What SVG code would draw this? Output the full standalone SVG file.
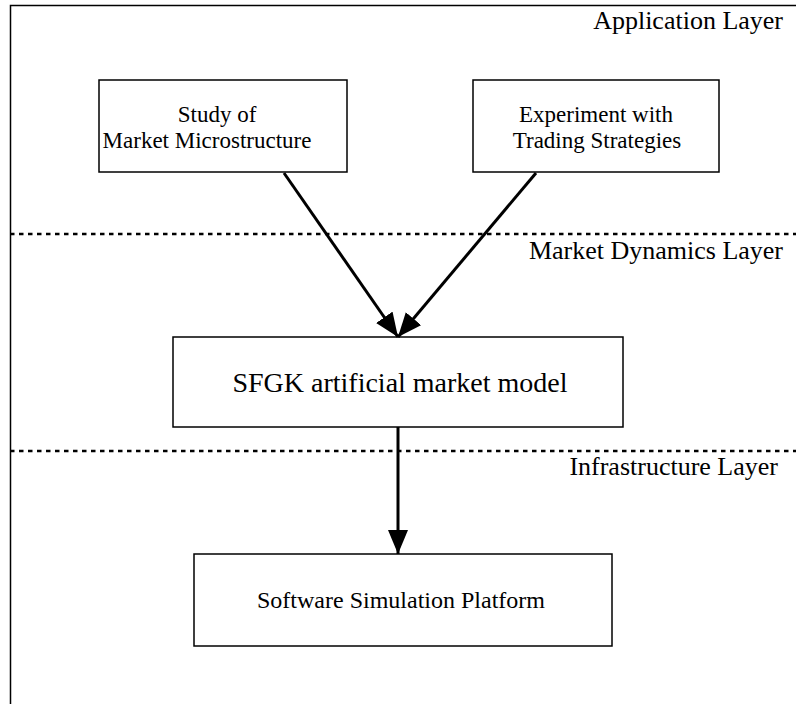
<svg xmlns="http://www.w3.org/2000/svg" width="796" height="704" viewBox="0 0 796 704">
<style>
.box{fill:#fff;stroke:#000;stroke-width:1.5}
.t{font-family:"Liberation Serif","Times New Roman",serif;fill:#000}
.lbl{font-size:26px;text-anchor:end}
.sm{font-size:23px;text-anchor:middle}
.lg{font-size:28px;text-anchor:middle}
.md{font-size:24px;text-anchor:middle}
.sep{stroke:#000;stroke-width:2.5;stroke-dasharray:4.5 4.5;fill:none}
.con{stroke:#000;stroke-width:3;fill:none}
</style>
<defs>
<marker id="ah" markerUnits="userSpaceOnUse" markerWidth="26" markerHeight="22" refX="24" refY="10" orient="auto">
<path d="M0,0 L24,10 L0,20 Z" fill="#000"/>
</marker>
</defs>
<rect width="796" height="704" fill="#fff"/>
<path d="M10.5,704 V5.5 H796" fill="none" stroke="#000" stroke-width="1.5"/>
<g id="separators">
<line class="sep" x1="10" y1="234" x2="796" y2="234"/>
<line class="sep" x1="10" y1="451" x2="796" y2="451"/>
</g>
<g id="layer-labels">
<text class="t lbl" x="783" y="29">Application Layer</text>
<text class="t lbl" x="783" y="259">Market Dynamics Layer</text>
<text class="t lbl" x="778" y="475">Infrastructure Layer</text>
</g>
<g id="study">
<rect class="box" x="99" y="80" width="248" height="92"/>
<text class="t sm" x="217" y="122">Study of</text>
<text class="t sm" x="207" y="148">Market Microstructure</text>
</g>
<g id="experiment">
<rect class="box" x="473" y="80" width="246" height="92"/>
<text class="t sm" x="596" y="122">Experiment with</text>
<text class="t sm" x="597" y="148">Trading Strategies</text>
</g>
<g id="sfgk">
<rect class="box" x="173" y="337" width="450" height="90"/>
<text class="t lg" x="400" y="392">SFGK artificial market model</text>
</g>
<g id="platform">
<rect class="box" x="194" y="554" width="418" height="92"/>
<text class="t md" x="401" y="608">Software Simulation Platform</text>
</g>
<g id="connectors">
<line class="con" x1="284" y1="173" x2="398" y2="337" marker-end="url(#ah)"/>
<line class="con" x1="536" y1="173" x2="398" y2="337" marker-end="url(#ah)"/>
<line class="con" x1="398" y1="427" x2="398" y2="554" marker-end="url(#ah)"/>
</g>
</svg>
